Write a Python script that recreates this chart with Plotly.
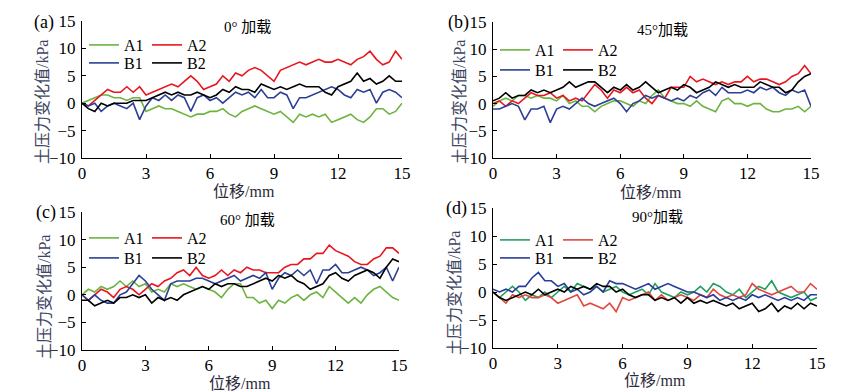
import plotly.graph_objects as go

W, H = 844, 392

# x grid (mm)
x_mm = [round(i * 0.3, 1) for i in range(51)]

# ---- panel (a) 0° ----
a_A1 = [0, 0.5, 1, 1.5, 1.5, 1, 1, 0.5, 1, 1, -1.5, -1, -0.5, -1, -1, -1.5, -2, -2.5, -2, -2,
        -1.5, -1.5, -1, -2, -2.5, -1.5, -1, -0.5, -1, -1.5, -2, -1.5, -2.5, -3.5, -2, -2.5, -2, -2.5,
        -2, -3.5, -3, -2.5, -2, -3, -3.5, -2.5, -1, -1, -2, -1.5, 0]
a_A2 = [0, -0.5, 0.5, 1.5, 2.5, 2, 2, 3, 2, 3, 1.5, 2, 2.5, 3, 3.5, 3, 4, 5, 4, 2.5,
        3, 3.5, 5, 4, 5.5, 5, 6, 6.5, 6, 5, 4, 6, 6.5, 7, 7.5, 7, 7.5, 8,
        7.5, 7.5, 8, 7.5, 7, 8, 8.5, 9.5, 8, 7, 7.5, 9.5, 8]
a_B1 = [0, -0.5, 0, -1.5, -0.5, 0, -0.5, -1, 0, -3, -0.5, 1, 0.5, 1.5, 0.5, 1.5, 1, -1.5, 1, 1.5,
        0.5, 1, 0, 1, 2, 1.5, 2, 1, 2.5, 1, 1, 2, 1.5, -1, 1, 1, 1.5, 2,
        2.5, 3, 2.5, 1.5, 1, 2.5, 2, 2.5, 0, 2, 2.5, 2, 1]
a_B2 = [0, -1, -1.5, 0, -0.5, 0, 0, 0, 0.5, 0.5, 0.5, 1, 1.5, 2, 1.5, 2, 1.5, 1.5, 2, 1.5,
        1, 1.5, 2.5, 2, 3, 2.5, 2.5, 2, 3.5, 3, 2.5, 3, 2.5, 3, 3.5, 3, 3, 3,
        2, 1.5, 3, 3.5, 4, 5.5, 4, 4.5, 3.5, 4, 5, 4, 4]

# ---- panel (b) 45° ----
b_A1 = [-0.5, 0.5, 1, 0.5, 1.5, 1.5, 1, 1.5, 1, 1, 0.5, 1.5, 0, 0.5, -0.5, -0.5, -1.5, -0.5, 0, 0.5,
        0.5, 0, -0.5, 0.5, 0, 1.5, 2.5, 1, 0.5, 0, 0, -0.5, 0.5, -0.5, -1, -1.5, 0.5, 1,
        0, 0, -0.5, 0, 0, -1, -1.5, -1.5, -1, -1, -0.5, -1.5, -0.5]
b_A2 = [0, 0.5, -0.5, 0.5, 0, 1, 2, 1.5, 1.5, 2, 1, 1.5, 0.5, 1, 0.5, 2, 3.5, 2.5, 1, 2.5,
        2, 3, 2, 2.5, 1, 0, 1.5, 1, 3, 3, 3, 5, 4, 4.5, 4, 3.5, 4, 3.5,
        4, 4, 5, 4, 4.5, 4.5, 4, 3.5, 4, 5, 5.5, 7, 5.5]
b_B1 = [-1, -1, -0.5, 0, -0.5, -3, -1, -1, -0.5, -3.5, -1, -0.5, -1, 0, 1, 0, -0.5, 0, 0.5, 1,
        0, -1.5, 0, 0.5, 1.5, 1, 1.5, 1, 0.5, 1, 0.5, 1.5, 1, 2, 2.5, 1.5, 3, 2,
        2, 2, 2.5, 2, 3, 2.5, 3, 2, 1.5, 2.5, 2, 2.5, -0.5]
b_B2 = [0.5, 1, 2, 1, 1.5, 1.5, 2.5, 2, 2.5, 2, 2.5, 3, 4, 3, 3.5, 4, 4, 3, 2, 3,
        2.5, 3.5, 2.5, 3, 4, 3, 2, 2.5, 3, 2.5, 3.5, 3, 2, 2.5, 3, 4, 3.5, 3,
        3.5, 3, 3, 3, 4, 3.5, 3, 3, 2, 2.5, 4, 5, 5.5]

# ---- panel (c) 60° ----
c_A1 = [0, 1, 0.5, 1.5, 1, 1.5, 2.5, 1.5, 2.5, 1.5, 2, 0.5, 1, 0.5, 2, 1.5, 2, 1.5, 1, 1.5,
        1, 0.5, -0.5, 1, 2, 2, -0.5, -0.5, -1.5, -1, -2.5, -1, -1.5, -0.5, 0, -1, 0, 0.5,
        -0.5, 1.5, 0.5, -0.5, -1.5, -0.5, -1.5, 0, 1, 1.5, 0.5, -0.5, -1]
c_A2 = [0, -1, 0, 1, 0.5, -0.5, 1, 1.5, 1, 0, 1, 2, 1.5, 2.5, 3, 4, 4.5, 3.5, 5, 3.5,
        3, 3.5, 4.5, 3.5, 4.5, 4, 5, 4.5, 4.5, 4, 4, 4, 5, 5.5, 5.5, 6.5, 6.5, 7.5,
        7.5, 9, 8, 7.5, 7, 6, 5.5, 5.5, 6.5, 7, 8.5, 8.5, 7.5]
c_B1 = [0, -1, 0, -1, -1.5, -1.5, 0, 0.5, 2, 3.5, 2.5, 1, 0, -1, 2, 2.5, 2.5, 2.5, 3, 3,
        2.5, 2, 2.5, 3, 3.5, 2.5, 3, 3.5, 3, 4, 1, 3, 4, 3.5, 4.5, 3.5, 4.5, 2,
        4.5, 4.5, 5.5, 4, 4, 4.5, 5, 4.5, 3.5, 4, 5, 2.5, 5]
c_B2 = [-1, -1, -2, -1.5, -1, -1.5, -0.5, -0.5, 0, -0.5, 0, -1.5, -0.5, -1, -0.5, -1, 0, 0.5, 1, 1.5,
        1, 2, 1.5, 2, 2, 1.5, 1.5, 2, 2.5, 3, 2.5, 3.5, 3, 3.5, 2.5, 2, 1, 1.5,
        2, 3.5, 4, 3, 2.5, 3.5, 4, 4.5, 4, 3, 5, 6.5, 6]

# ---- panel (d) 90° ----
d_A1 = [0, -1, 0, 1, 0, -1.5, -0.5, -1, 0, -1, 0, 1, 0, 1.5, 1, 0.5, 1, 0, 0.5, 1,
        0, -0.5, 0, 0.5, -0.5, 1.5, 0, -0.5, -1, 0, -0.5, 0, 1, 0, 1.5, 1, 0, -0.5,
        0.5, -1, 0, 1, 0.5, 2, 0, -0.5, -1, -0.5, 0, -1.5, -1]
d_A2 = [0, -1, -2, -0.5, -1, -0.5, -1, -1, -0.5, -1, -2, -1.5, -1, -0.5, -2.5, -2, -2.5, -3, -2, -3.5,
        -1, -1.5, -1, -0.5, 0, -1.5, -0.5, -1.5, -1, -0.5, -1, -1.5, -0.5, -1, 0.5, -0.5, -1, -0.5,
        -1, -0.5, 1.5, 0.5, 0, -0.5, 0, 0.5, 1, 0, 0, 1.5, 0.5]
d_B1 = [0.5, 0, 0.5, 0, 1, 1, 2.5, 3.5, 2, 2, 1, 1.5, 0, 0.5, -0.5, 0, 1, 0, 2, 1.5,
        1.5, 1, 0.5, 1, 1.5, 0.5, 1, 1.5, 1, 0.5, 0, 0, -0.5, -1, -0.5, -1.5, -1, -1.5,
        -1, -1.5, -0.5, -1, -0.5, -1, -1.5, -1, -1.5, -1, -1.5, -0.5, -0.5]
d_B2 = [0, -1, -1.5, -1, -0.5, 0, -0.5, 0.5, -0.5, 0, 0.5, 0, 1, 0.5, 1, 0.5, 1.5, 1, 1, 0,
        0.5, -0.5, -1, -0.5, -0.5, -1.5, -1, -1.5, -1, -2, -1, -2, -1.5, -2, -1.5, -2, -2.5, -2,
        -3, -2.5, -2, -3.5, -3, -2, -3.5, -2.5, -3, -2, -3, -2, -2.5]

series_names = ["A1", "A2", "B1", "B2"]
panel_titles = ["0° 加载", "45°加载", "60° 加载", "90°加载"]
panel_tags = ["(a)", "(b)", "(c)", "(d)"]
x_ticks = [0, 3, 6, 9, 12, 15]
y_ticks = [-10, -5, 0, 5, 10, 15]
x_title = "位移/mm"
y_title = "土压力变化值/kPa"

panels_data = [
    [a_A1, a_A2, a_B1, a_B2],
    [b_A1, b_A2, b_B1, b_B2],
    [c_A1, c_A2, c_B1, c_B2],
    [d_A1, d_A2, d_B1, d_B2],
]

colors_abc = ["#6db33f", "#e8161e", "#2c3f95", "#000000"]
colors_d = ["#23a060", "#e04840", "#2a3c98", "#000000"]

# plot-area boxes in pixels: (left, right, top, bottom)
boxes = [(82, 402, 21, 158), (493, 811, 22, 158), (82, 399, 212, 350), (493, 817, 208, 348)]

def px(x):
    return x / W

def py(y):
    return 1 - y / H

SERIF = "Liberation Serif, Times New Roman, serif"
CJK = "Liberation Serif, Noto Sans CJK SC, serif"

fig = go.Figure()
layout = dict(width=W, height=H, margin=dict(l=0, r=0, t=0, b=0, autoexpand=False),
              template="simple_white",
              paper_bgcolor="white", plot_bgcolor="white", showlegend=True)

annotations = []
for i in range(4):
    l, r, t, b = boxes[i]
    xa = "xaxis" if i == 0 else f"xaxis{i+1}"
    ya = "yaxis" if i == 0 else f"yaxis{i+1}"
    xr = "x" if i == 0 else f"x{i+1}"
    yr = "y" if i == 0 else f"y{i+1}"
    common = dict(showline=True, linecolor="black", linewidth=1, ticks="inside", ticklen=4,
                  tickcolor="black", showgrid=False, zeroline=False, automargin=False,
                  tickfont=dict(family=SERIF, size=17, color="black"))
    layout[xa] = dict(domain=[px(l), px(r)], anchor=yr, range=[0, 15], tickvals=x_ticks,
                      ticklabelstandoff=0, **common)
    layout[ya] = dict(domain=[py(b), py(t)], anchor=xr, range=[-10, 15], tickvals=y_ticks,
                      ticklabelstandoff=2, **common)
    cols = colors_d if i == 3 else colors_abc
    leg1 = "legend" if i == 0 else f"legend{2*i+1}"
    leg2 = f"legend{2*i+2}"
    for k in range(4):
        fig.add_trace(go.Scatter(x=x_mm, y=panels_data[i][k], mode="lines", name=series_names[k],
                                 line=dict(color=cols[k], width=1.6), xaxis=xr, yaxis=yr,
                                 legend=leg1 if k < 2 else leg2))
    # legends: two rows
    row_y = [[45, 63], [50, 70], [238, 258], [240, 258]][i]
    leg_x = [82, 493, 82, 493][i]
    for j, lg in enumerate([leg1, leg2]):
        layout[lg] = dict(x=px(leg_x + 2), y=py(row_y[j]), xanchor="left", yanchor="middle",
                          orientation="h", bgcolor="rgba(0,0,0,0)", borderwidth=0,
                          font=dict(family=SERIF, size=16, color="black"),
                          entrywidth=18, entrywidthmode="pixels", itemwidth=30,
                          tracegroupgap=0)

# text positions (pixels, centers)
tag_pos = [(44, 23), (458, 22), (46, 212), (457, 208)]
title_pos = [(247, 27), (662, 30), (248, 220), (657, 217)]
xt_pos = [(244, 191), (651, 192), (240, 383), (655, 380)]
yt_pos = [(42, 102), (459, 102), (44, 297), (454, 293)]

def ann(text, pos, font, angle=0):
    return dict(text=text, x=px(pos[0]), y=py(pos[1]), xref="paper", yref="paper",
                xanchor="center", yanchor="middle", showarrow=False, textangle=angle, font=font)

for i in range(4):
    annotations.append(ann(panel_tags[i], tag_pos[i], dict(family=SERIF, size=18, color="black")))
    annotations.append(ann(panel_titles[i], title_pos[i], dict(family=CJK, size=15, color="black")))
    annotations.append(ann(x_title, xt_pos[i], dict(family=CJK, size=16, color="#2a2a3a")))
    annotations.append(ann(y_title, yt_pos[i], dict(family=CJK, size=16, color="#3d4563"), -90))

layout["annotations"] = annotations
fig.update_layout(**layout)
fig.write_html("out.html", config={"displayModeBar": False},
               post_script="document.body.style.margin='0';document.body.style.overflow='hidden';")
